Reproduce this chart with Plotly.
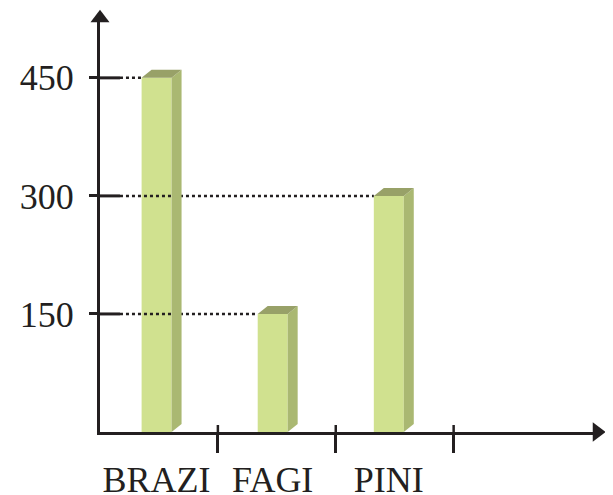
import numpy as np
import plotly.graph_objects as go

categories = ['BRAZI', 'FAGI', 'PINI']
values = [450, 150, 300]
y_ticks = [150, 300, 450]
x_dividers = [1, 2, 3]

ink = '#231f20'
front = '#d0e18f'
side = '#aab872'
top = '#98a168'

# pixel -> data helpers (plot area: x 100..597.5, y 18..432 in the window)
px_x = 118.0      # pixels per x unit
px_y = 0.787      # pixels per y unit
x_max = 497.5 / px_x
y_max = 414 / px_y
page_off = 8      # default body margin of the html page

pos = np.arange(len(categories)) * 0.985 + 0.48
w = 30 / px_x
dx = 10 / px_x
dy = 8 / px_y

fig = go.Figure()

# dotted guide lines from the y axis to each bar top
for p, v in zip(pos, values):
    fig.add_trace(go.Scatter(x=[20 / px_x, p - w / 2], y=[v, v], mode='lines',
                             line=dict(color=ink, width=2.5, dash='dot'), hoverinfo='skip'))

# inner halves of the tick marks
for t in y_ticks:
    fig.add_trace(go.Scatter(x=[0, 20 / px_x], y=[t, t], mode='lines',
                             line=dict(color=ink, width=3), hoverinfo='skip'))
for d in x_dividers:
    fig.add_trace(go.Scatter(x=[d, d], y=[0, 7 / px_y], mode='lines',
                             line=dict(color=ink, width=2.5), hoverinfo='skip'))

# front faces
fig.add_trace(go.Bar(x=pos, y=values, width=w, marker=dict(color=front, line=dict(width=0)),
                     hoverinfo='skip'))

# side and top faces
for p, v in zip(pos, values):
    x0, x1 = p - w / 2, p + w / 2
    fig.add_trace(go.Scatter(x=[x1, x1 + dx, x1 + dx, x1, x1], y=[0, dy, v + dy, v, 0],
                             mode='lines', fill='toself', fillcolor=side,
                             line=dict(width=0, color=side), hoverinfo='skip'))
    fig.add_trace(go.Scatter(x=[x0, x0 + dx, x1 + dx, x1, x0], y=[v, v + dy, v + dy, v, v],
                             mode='lines', fill='toself', fillcolor=top,
                             line=dict(width=0, color=top), hoverinfo='skip'))

# axis arrow heads
fig.add_trace(go.Scatter(x=[0], y=[y_max], mode='markers', cliponaxis=False,
                         marker=dict(symbol='triangle-up', size=16.5, color=ink), hoverinfo='skip'))
fig.add_trace(go.Scatter(x=[x_max], y=[0], mode='markers', cliponaxis=False,
                         marker=dict(symbol='triangle-right', size=17, color=ink), hoverinfo='skip'))

fig.update_layout(
    width=613, height=495,
    margin=dict(l=100 - page_off, r=15.5 + page_off, t=18 - page_off, b=63 + page_off),
    paper_bgcolor='white', plot_bgcolor='white',
    showlegend=False, hovermode=False,
    font=dict(family='Liberation Serif', size=36, color=ink),
    xaxis=dict(range=[0, x_max], showgrid=False, zeroline=False, automargin=False,
               showline=True, linecolor=ink, linewidth=3,
               tickmode='array', tickvals=pos, ticktext=categories, ticks='',
               ticklabelstandoff=14,
               minor=dict(tickmode='array', tickvals=x_dividers, ticks='outside',
                          ticklen=18, tickwidth=2.5, tickcolor=ink)),
    yaxis=dict(range=[0, y_max], showgrid=False, zeroline=False, automargin=False,
               showline=True, linecolor=ink, linewidth=3,
               tickmode='array', tickvals=y_ticks, ticks='outside',
               ticklen=8, tickwidth=3, tickcolor=ink, ticklabelstandoff=8),
)

fig.write_html("out.html")
